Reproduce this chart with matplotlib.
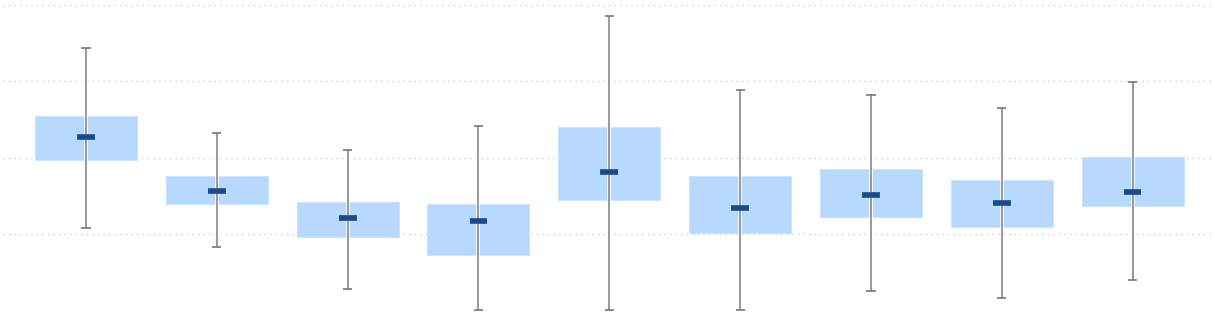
import numpy as np
import matplotlib.pyplot as plt

# per-group stats (0-100 scale, gridlines every 25)
groups = list(range(9))
q1 = [49.2, 34.8, 23.9, 18.0, 36.1, 25.2, 30.5, 27.2, 34.1]
q3 = [63.6, 43.9, 35.4, 34.8, 60.0, 43.9, 46.2, 42.6, 50.2]
median = [56.7, 39.0, 30.2, 29.2, 45.2, 33.4, 37.7, 35.1, 38.7]
lo = [26.9, 20.7, 6.9, 0.0, 0.0, 0.0, 6.2, 3.9, 9.8]
hi = [85.9, 58.0, 52.5, 60.3, 96.4, 72.1, 70.5, 66.2, 74.8]
grid_vals = [0, 25, 50, 75, 100]

fig = plt.figure(figsize=(12.15, 3.27), dpi=100)
ax = fig.add_axes([3 / 1215, 17 / 327, 1209 / 1215, 305 / 327])

x = np.array(groups)
ax.bar(x, np.array(q3) - np.array(q1), bottom=q1, width=0.78,
       color='#b6d9fd', edgecolor='#c9e3fd', linewidth=0.8, zorder=2)

# whiskers with a thin white halo
ax.vlines(x, lo, hi, color='white', linewidth=2.6, zorder=3, clip_on=False)
ax.vlines(x, lo, hi, color='#999999', linewidth=1.4, zorder=4, clip_on=False)
ax.hlines(lo, x - 0.035, x + 0.035, color='#777777', linewidth=1.2, zorder=4, clip_on=False)
ax.hlines(hi, x - 0.035, x + 0.035, color='#777777', linewidth=1.2, zorder=4, clip_on=False)

# median marks
ax.hlines(median, x - 0.068, x + 0.068, color='#2a5a9a', linewidth=4.2, zorder=5)
ax.hlines(median, x - 0.064, x + 0.064, color='#1a4a86', linewidth=2.6, zorder=6)

for g in grid_vals:
    ax.axhline(g, color='#cccccc', linewidth=1, linestyle=(0, (1, 3)), zorder=1)

ax.set_xlim(-0.634, 8.607)
ax.set_ylim(0, 100)
ax.axis('off')

fig.savefig('out.png', dpi=100, facecolor='white')
